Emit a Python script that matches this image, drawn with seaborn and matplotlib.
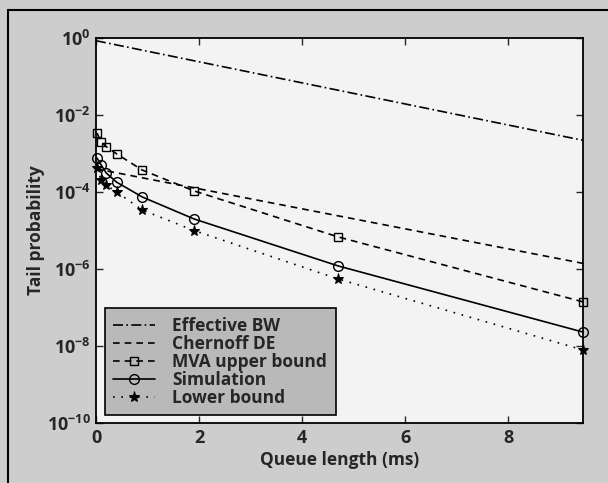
import matplotlib
matplotlib.use("Agg")
import matplotlib.pyplot as plt
import seaborn as sns
import pandas as pd

# data
x_pts = [0.02, 0.1, 0.2, 0.4, 0.9, 1.9, 4.7, 9.45]
mva_upper = [3.4e-3, 2.0e-3, 1.5e-3, 9.8e-4, 3.7e-4, 1.07e-4, 6.8e-6, 1.4e-7]
simulation = [7.6e-4, 5.0e-4, 3.1e-4, 1.8e-4, 7.4e-5, 2.0e-5, 1.2e-6, 2.3e-8]
lower_bound = [4.2e-4, 2.0e-4, 1.5e-4, 1.0e-4, 3.4e-5, 1.0e-5, 5.5e-7, 7.9e-9]

x_line = [0.0, 9.45]
effective_bw = [0.85, 2.2e-3]
chernoff = [4.0e-4, 1.4e-6]

sns.set_style("ticks")
plt.rcParams['font.family'] = ['Open Sans', 'DejaVu Sans']
plt.rcParams['font.weight'] = 'bold'
plt.rcParams['mathtext.fontset'] = 'custom'
plt.rcParams['mathtext.rm'] = 'Open Sans:bold'
plt.rcParams['mathtext.bf'] = 'Open Sans:bold'
plt.rcParams['mathtext.default'] = 'bf'

fig = plt.figure(figsize=(6.08, 4.83), dpi=100, facecolor='#cdcdcd')
ax = fig.add_axes([96 / 608, 60 / 483, 487 / 608, 385 / 483])
ax.set_facecolor('#f3f3f3')

series = [
    ('Effective BW', x_line, effective_bw, dict(linestyle=(0, (6, 2, 1, 2)))),
    ('Chernoff DE', x_line, chernoff, dict(linestyle=(0, (4, 3)))),
    ('MVA upper bound', x_pts, mva_upper,
     dict(linestyle=(0, (4, 3)), marker='s', markersize=6,
          markerfacecolor='none', markeredgecolor='black', markeredgewidth=1)),
    ('Simulation', x_pts, simulation,
     dict(linestyle='-', marker='o', markersize=7,
          markerfacecolor='none', markeredgecolor='black', markeredgewidth=1)),
    ('Lower bound', x_pts, lower_bound,
     dict(linestyle=(0, (1, 4)), marker='*', markersize=8,
          markerfacecolor='black', markeredgecolor='black')),
]

for name, xs, ys, style in series:
    df = pd.DataFrame({'x': xs, 'y': ys})
    sns.lineplot(data=df, x='x', y='y', ax=ax, color='black',
                 linewidth=1.2, label=name, clip_on=False, **style)

ax.set_yscale('log')
ax.set_xlim(0, 9.45)
ax.set_ylim(1e-10, 1)
ax.set_yticks([1e0, 1e-2, 1e-4, 1e-6, 1e-8, 1e-10])
ax.set_yticklabels(['$10^{0}$', '$10^{-2}$', '$10^{-4}$',
                    '$10^{-6}$', '$10^{-8}$', '$10^{-10}$'])
ax.minorticks_off()
ax.set_xticks([0, 2, 4, 6, 8])
ax.tick_params(direction='in', top=True, right=True, length=5, width=1,
               labelsize=13, pad=4)
for lab in ax.get_xticklabels() + ax.get_yticklabels():
    lab.set_fontweight('bold')
for sp in ax.spines.values():
    sp.set_linewidth(1.3)
    sp.set_color('black')

ax.set_xlabel('Queue length (ms)', fontsize=12.5, fontweight='bold', labelpad=3)
ax.set_ylabel('Tail probability', fontsize=12.5, fontweight='bold', labelpad=1)

leg = ax.legend(loc='lower left', bbox_to_anchor=(0.018, 0.02), fontsize=12.5,
                frameon=True, fancybox=False, edgecolor='black',
                facecolor='#b9b9b9', framealpha=1, handlelength=2.4,
                labelspacing=0.0, borderpad=0.5, handletextpad=1.0,
                borderaxespad=0)
leg.get_frame().set_linewidth(1.2)
for t in leg.get_texts():
    t.set_fontweight('bold')

fig.add_artist(plt.Line2D([0.013, 0.013], [0, 0.98], transform=fig.transFigure,
                          color='black', linewidth=1.5))
fig.add_artist(plt.Line2D([0.013, 1], [0.98, 0.98], transform=fig.transFigure,
                          color='black', linewidth=1.5))

fig.savefig('out.png', dpi=100, facecolor=fig.get_facecolor())
